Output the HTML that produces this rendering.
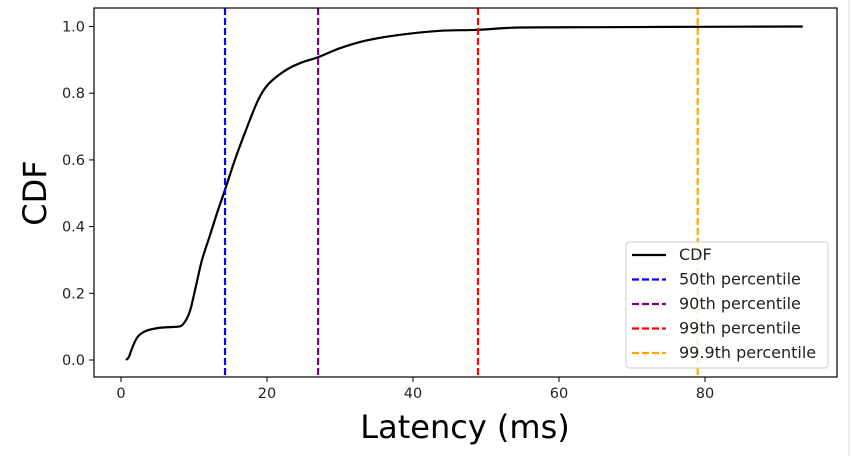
<!DOCTYPE html>
<html><head><meta charset="utf-8"><style>
body{margin:0;background:#fff;}
svg{display:block;font-family:"DejaVu Sans","Liberation Sans",sans-serif;}
</style></head><body>
<svg id="chart" width="853" height="456">
<line x1="849" y1="0" x2="849" y2="456" stroke="#ddd"/>
</svg>
<script>
const cdfX=[0.7,1.1,1.6,2.3,3.4,5.1,7,8.2,8.9,9.5,10.3,11.1,12.2,13.3,14.25,15.6,17.3,18.8,20.1,22.2,24.5,27,30,33.4,38.2,43.7,48.9,54.7,65.6,79.3,93.4];
const cdfY=[0,0.01,0.04,0.07,0.087,0.096,0.099,0.102,0.12,0.15,0.225,0.30,0.375,0.45,0.51,0.60,0.70,0.78,0.825,0.864,0.89,0.908,0.935,0.957,0.975,0.987,0.99,0.997,0.998,0.999,1.0];
const pctNames=["50th percentile","90th percentile","99th percentile","99.9th percentile"];
const pctValues=[14.25,27.0,48.9,79.0];
const pctColors=["#0000ff","#800080","#ff0000","#ffa500"];
const xTicks=[0,20,40,60,80];
const yTicks=[0,0.2,0.4,0.6,0.8,1.0];
const yTickLabels=["0.0","0.2","0.4","0.6","0.8","1.0"];
const NS="http://www.w3.org/2000/svg";
const svg=document.getElementById('chart');
const L=94,T=8,R=837,B=377;
const sx=v=>121+v*7.3;
const sy=v=>360-v*333.5;
function mk(tag,attrs,parent){const e=document.createElementNS(NS,tag);for(const k in attrs)e.setAttribute(k,attrs[k]);(parent||svg).appendChild(e);return e;}
// smooth path via Catmull-Rom
const P=cdfX.map((x,i)=>[sx(x),sy(cdfY[i])]);
let d='M'+P[0][0].toFixed(1)+','+P[0][1].toFixed(1);
for(let i=0;i<P.length-1;i++){
  const p0=P[i-1]||P[i],p1=P[i],p2=P[i+1],p3=P[i+2]||P[i+1];
  const c1=[p1[0]+(p2[0]-p0[0])/6,p1[1]+(p2[1]-p0[1])/6];
  const c2=[p2[0]-(p3[0]-p1[0])/6,p2[1]-(p3[1]-p1[1])/6];
  d+=' C'+c1.map(v=>v.toFixed(1)).join(',')+' '+c2.map(v=>v.toFixed(1)).join(',')+' '+p2.map(v=>v.toFixed(1)).join(',');
}
const cl=mk('path',{d:d,fill:'none',stroke:'#000','stroke-width':2.2,'stroke-linejoin':'round'});


pctValues.forEach((v,i)=>{
  const l=mk('line',{x1:sx(v),x2:sx(v),y1:T,y2:B,stroke:pctColors[i],'stroke-width':2.2,'stroke-dasharray':'7,3'});
  
  
});
const fr=mk('rect',{x:L,y:T,width:R-L,height:B-T,fill:'none',stroke:'#000','stroke-width':1.2});


xTicks.forEach(v=>{
  mk('line',{x1:sx(v),x2:sx(v),y1:B,y2:B+5,stroke:'#000'});
  const t=mk('text',{x:sx(v),y:B+21,'text-anchor':'middle','font-size':14.5,fill:'#222'});
  t.textContent=v;
  
  
});
yTicks.forEach((v,i)=>{
  mk('line',{x1:L-5,x2:L,y1:sy(v),y2:sy(v),stroke:'#000'});
  const t=mk('text',{x:L-9,y:sy(v)+5,'text-anchor':'end','font-size':14.5,fill:'#222'});
  t.textContent=yTickLabels[i];
  
  
});
const xt=mk('text',{x:465,y:438,'text-anchor':'middle','font-size':32,fill:'#000'});
xt.textContent='Latency (ms)';


const yt=mk('text',{x:46,y:193,'text-anchor':'middle','font-size':32,fill:'#000',transform:'rotate(-90 46 193)'});
yt.textContent='CDF';


// legend
const lg=mk('g',{});


mk('rect',{x:626,y:242,width:202,height:126,rx:3,fill:'#fff','fill-opacity':0.85,stroke:'#ccc'},lg);
const names=['CDF'].concat(pctNames), cols=['#000'].concat(pctColors);
names.forEach((n,i)=>{
  const y=255+i*24.5;
  mk('line',{x1:632,x2:666,y1:y,y2:y,stroke:cols[i],'stroke-width':2.2,'stroke-dasharray':i?'7,3':'none'},lg);
  const t=mk('text',{x:679,y:y+5,'font-size':16,fill:'#222'},lg);
  t.textContent=n;
  
  
});
</script>
</body></html>
